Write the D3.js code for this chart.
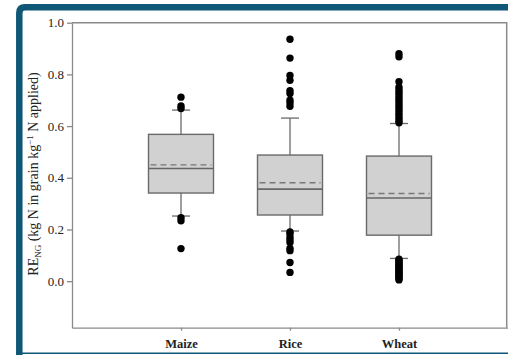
<!DOCTYPE html>
<html>
<head>
<meta charset="utf-8">
<script src="https://cdn.jsdelivr.net/npm/d3@7"></script>
<style>
    html, body { margin: 0; padding: 0; background: #fff; }
    svg { display: block; }
    .axis path, .axis line { stroke: #8a8a8a; stroke-width: 1.3; }
    .axis text { font-family: 'Liberation Serif', 'DejaVu Serif', serif; font-size: 13px; fill: #222; }
</style>
</head>
<body>
<svg id="chart" width="508" height="355"></svg>
<script>
var categories = ['Maize', 'Rice', 'Wheat'];
var q1 = [0.341, 0.256, 0.178];
var medians = [0.436, 0.356, 0.322];
var q3 = [0.568, 0.488, 0.484];
var means = [0.450, 0.381, 0.339];
var whiskerLow = [0.252, 0.194, 0.088];
var whiskerHigh = [0.662, 0.631, 0.610];
var outliers = [
    [0.712, 0.678, 0.668, 0.246, 0.234, 0.126],
    [0.936, 0.863, 0.796, 0.777, 0.737, 0.726, 0.700, 0.690, 0.677,
        0.190, 0.184, 0.171, 0.160, 0.150, 0.127, 0.118, 0.072, 0.034],
    [0.880, 0.868, 0.772, 0.750, 0.740, 0.730, 0.720, 0.710, 0.700, 0.690, 0.680,
        0.670, 0.660, 0.650, 0.640, 0.630, 0.620, 0.613,
        0.085, 0.080, 0.075, 0.070, 0.065, 0.060, 0.055, 0.050, 0.045, 0.040,
        0.035, 0.030, 0.025, 0.020, 0.015, 0.010, 0.005]
];
var yTicks = [0.0, 0.2, 0.4, 0.6, 0.8, 1.0];

var svg = d3.select('#chart');
var plotLeft = 72, plotRight = 508, plotTop = 22.7, plotBottom = 327.7;
var boxHalf = 32.5, capHalf = 9;

var x = d3.scalePoint().domain(categories).range([plotLeft, plotRight]).padding(1);
var y = d3.scaleLinear().domain([-0.18, 1.0]).range([plotBottom, plotTop]);

// teal frame (left + top thick, bottom thin)
var teal = '#0f5777';
svg.append('path')
    .attr('d', 'M19.3,355 L19.3,13 Q19.3,7.3 25,7.3 L520,7.3')
    .attr('fill', 'none')
    .attr('stroke', teal)
    .attr('stroke-width', 6.5);
svg.append('line')
    .attr('x1', 16).attr('x2', 508)
    .attr('y1', 353.3).attr('y2', 353.3)
    .attr('stroke', teal)
    .attr('stroke-width', 1.6);

// plot frame top / right
svg.append('path')
    .attr('d', 'M' + plotLeft + ',' + plotTop + 'H' + (plotRight - 1.3) + 'V' + plotBottom)
    .attr('fill', 'none')
    .attr('stroke', '#8a8a8a')
    .attr('stroke-width', 1.5);

svg.append('g')
    .attr('class', 'axis')
    .attr('transform', 'translate(' + plotLeft + ',0)')
    .call(d3.axisLeft(y).tickValues(yTicks).tickFormat(d3.format('.1f')).tickSize(5).tickSizeOuter(0).tickPadding(3));

var xAxis = svg.append('g')
    .attr('class', 'axis')
    .attr('transform', 'translate(0,' + plotBottom + ')')
    .call(d3.axisBottom(x).tickSize(3).tickSizeOuter(0).tickPadding(8));
xAxis.select('.domain').attr('stroke-width', 2);
xAxis.selectAll('text').style('font-weight', 'bold').style('font-size', '12.5px');

var g = svg.append('g');
categories.forEach(function (c, i) {
    var cx = x(c);
    // whiskers
    g.append('line')
        .attr('x1', cx).attr('x2', cx)
        .attr('y1', y(q3[i])).attr('y2', y(whiskerHigh[i]))
        .attr('stroke', '#6a6a6a').attr('stroke-width', 1.3);
    g.append('line')
        .attr('x1', cx).attr('x2', cx)
        .attr('y1', y(q1[i])).attr('y2', y(whiskerLow[i]))
        .attr('stroke', '#6a6a6a').attr('stroke-width', 1.3);
    [whiskerHigh[i], whiskerLow[i]].forEach(function (v) {
        g.append('line')
            .attr('x1', cx - capHalf).attr('x2', cx + capHalf)
            .attr('y1', y(v)).attr('y2', y(v))
            .attr('stroke', '#6a6a6a').attr('stroke-width', 1.3);
    });
    // box
    g.append('rect')
        .attr('x', cx - boxHalf)
        .attr('y', y(q3[i]))
        .attr('width', boxHalf * 2)
        .attr('height', y(q1[i]) - y(q3[i]))
        .attr('fill', '#d1d1d1')
        .attr('stroke', '#6a6a6a')
        .attr('stroke-width', 1.4);
    g.append('line')
        .attr('x1', cx - boxHalf).attr('x2', cx + boxHalf)
        .attr('y1', y(medians[i])).attr('y2', y(medians[i]))
        .attr('stroke', '#666').attr('stroke-width', 1.6);
    g.append('line')
        .attr('x1', cx - boxHalf + 2).attr('x2', cx + boxHalf - 2)
        .attr('y1', y(means[i])).attr('y2', y(means[i]))
        .attr('stroke', '#777').attr('stroke-width', 1.4)
        .attr('stroke-dasharray', '6,4');
    g.selectAll('circle.o' + i)
        .data(outliers[i])
        .enter()
        .append('circle')
        .attr('class', 'o' + i)
        .attr('cx', cx)
        .attr('cy', function (d) { return y(d); })
        .attr('r', 3.7)
        .attr('fill', '#000');
});

// y axis title
var title = svg.append('text')
    .attr('transform', 'translate(38,' + 174 + ') rotate(-90)')
    .attr('text-anchor', 'middle')
    .style('font-family', "'Liberation Serif', 'DejaVu Serif', serif")
    .style('font-size', '14px')
    .style('fill', '#222');
title.append('tspan').text('RE');
title.append('tspan').attr('dy', 3).style('font-size', '9px').text('NG');
title.append('tspan').attr('dy', -3).text(' (kg N in grain kg');
title.append('tspan').attr('dy', -5).style('font-size', '9px').text('\u22121');
title.append('tspan').attr('dy', 5).text(' N applied)');
</script>
</body>
</html>
